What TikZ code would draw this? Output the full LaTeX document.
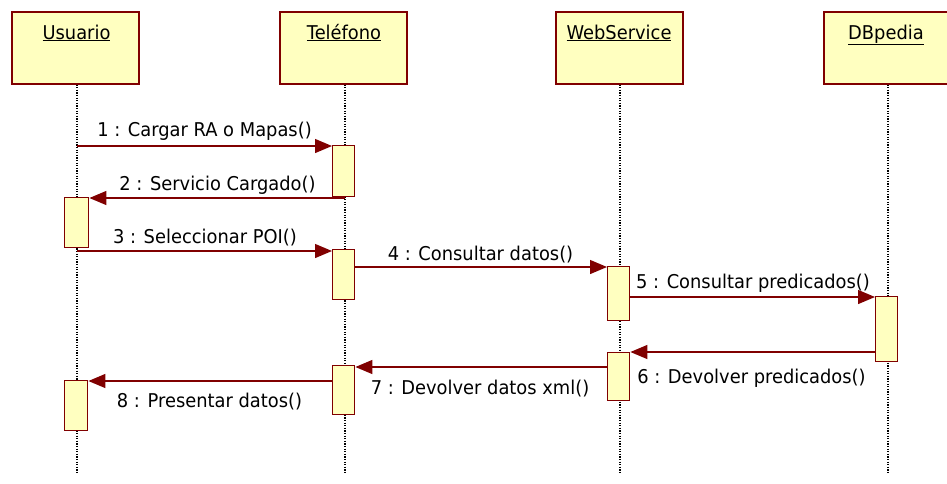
\documentclass[tikz,border=0pt]{standalone}
\usepackage{fontspec}
\setmainfont[FakeStretch=0.94]{DejaVu Sans}
\usetikzlibrary{arrows.meta}
\definecolor{umlred}{HTML}{800000}
\definecolor{umlfill}{HTML}{FFFFC0}
\tikzset{
  head/.style={draw=umlred, line width=2pt, fill=umlfill, rectangle,
    minimum width=127pt, minimum height=72pt, inner sep=0pt},
  headtext/.style={font=\fontsize{19}{21}\selectfont, anchor=base},
  act/.style={draw=umlred, line width=1.4pt, fill=umlfill, rectangle,
    inner sep=0pt},
  life/.style={black, line width=1.1pt, dash pattern=on 1.2pt off 1.4pt},
  msg/.style={umlred, line width=1.3pt,
    -{Triangle[length=17pt,width=14pt]}},
  lbl/.style={font=\fontsize{19}{21}\selectfont, anchor=base, inner sep=0pt},
}
\newcommand{\actbox}[5]{%
  \node[act, minimum width=#3pt, minimum height=#5pt, anchor=north west]
    (#1) at (#2,#4) {};}
\begin{document}
\begin{tikzpicture}[x=1pt,y=-1pt]
\useasboundingbox[fill=white] (0,0) rectangle (947,483);

% object heads
\node[head] (usuario) at (75.5,47.5) {};
\node[head] (telefono) at (343,47.5) {};
\node[head] (webservice) at (619.5,47.5) {};
\node[head] (dbpedia) at (887,47.5) {};
\node[headtext] (tusuario) at (76.5,39) {\underline{Usuario}};
\node[headtext] (ttelefono) at (344,39) {\underline{Teléfono}};
\node[headtext] (twebservice) at (619,39) {\underline{WebService}};
\node[headtext] (tdbpedia) at (886,39) {\underline{DBpedia}};

% lifeline ends
\coordinate (uend) at (77,473);
\coordinate (tend) at (345,473);
\coordinate (wend) at (620,473);
\coordinate (dend) at (888,473);
\draw[life] (usuario.south -| uend) -- (uend);
\draw[life] (telefono.south -| tend) -- (tend);
\draw[life] (webservice.south -| wend) -- (wend);
\draw[life] (dbpedia.south -| dend) -- (dend);

% activation bars: name, left, width, top, height
\actbox{tact1}{332}{22}{145}{51}
\actbox{uact1}{64}{24}{197}{50}
\actbox{tact2}{332}{22}{249}{50}
\actbox{wact1}{607}{22}{266}{54}
\actbox{dact}{875}{22}{296}{65}
\actbox{wact2}{607}{22}{352}{48}
\actbox{tact3}{332}{22}{365}{49}
\actbox{uact2}{64}{23}{380}{50}

% message start points
\coordinate (m1) at (77,146);
\coordinate (m2) at (345,198);
\coordinate (m3) at (77,251);
\coordinate (m4) at (354,267);
\coordinate (m5) at (629,297);
\coordinate (m6) at (875,352);
\coordinate (m7) at (607,367);
\coordinate (m8) at (332,381);

% messages
\draw[msg] (m1) -- (tact1.west |- m1);
\draw[msg] (m2) -- (uact1.east |- m2);
\draw[msg] (m3) -- (tact2.west |- m3);
\draw[msg] (m4) -- (wact1.west |- m4);
\draw[msg] (m5) -- (dact.west |- m5);
\draw[msg] (m6) -- (wact2.east |- m6);
\draw[msg] (m7) -- (tact3.east |- m7);
\draw[msg] (m8) -- (uact2.east |- m8);

% message labels
\node[lbl] (l1) at (204.5,136) {1 : Cargar RA o Mapas()};
\node[lbl] (l2) at (217.5,190) {2 : Servicio Cargado()};
\node[lbl] (l3) at (205,243) {3 : Seleccionar POI()};
\node[lbl] (l4) at (480.5,260) {4 : Consultar datos()};
\node[lbl] (l5) at (753,288) {5 : Consultar predicados()};
\node[lbl] (l6) at (751.5,383) {6 : Devolver predicados()};
\node[lbl] (l7) at (480,394) {7 : Devolver datos xml()};
\node[lbl] (l8) at (209.5,407) {8 : Presentar datos()};
\end{tikzpicture}
\end{document}
